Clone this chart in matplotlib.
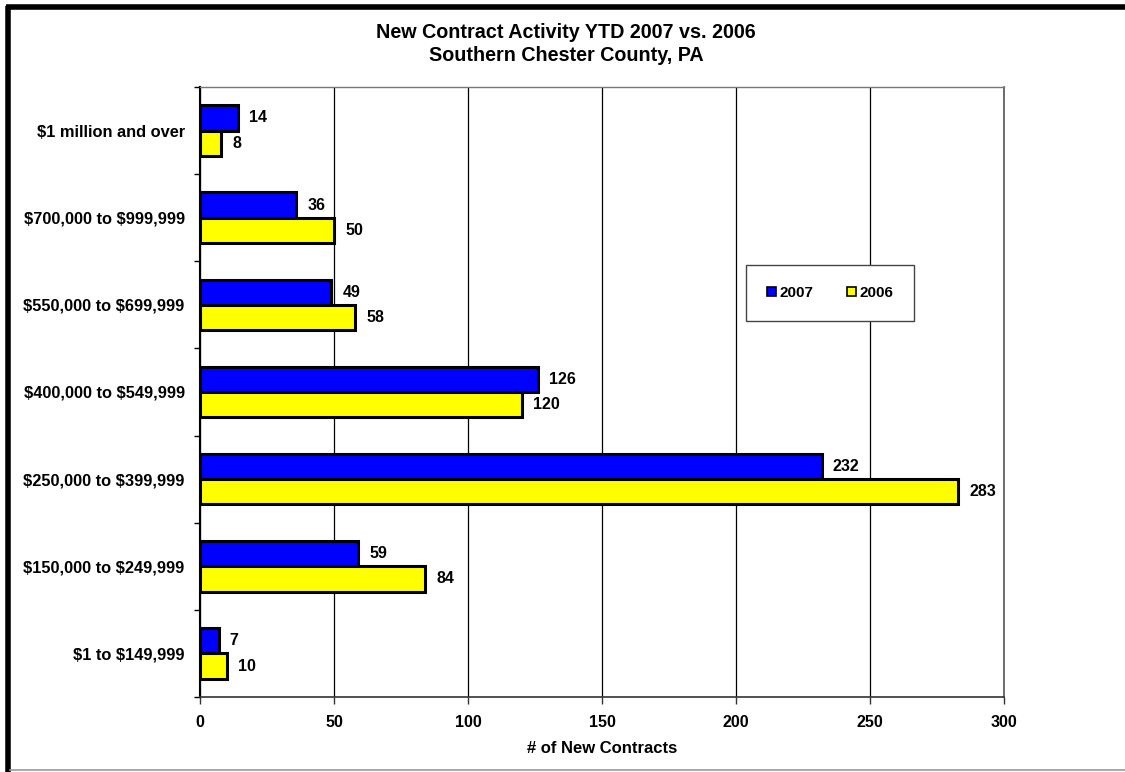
import numpy as np
import matplotlib
matplotlib.use("Agg")
import matplotlib.pyplot as plt
from matplotlib.lines import Line2D

plt.rcParams['font.family'] = ['Liberation Sans', 'DejaVu Sans']
plt.rcParams['font.weight'] = 'bold'
plt.rcParams['text.parse_math'] = False

# Data (bottom to top)
categories = ["$1 to $149,999", "$150,000 to $249,999", "$250,000 to $399,999",
              "$400,000 to $549,999", "$550,000 to $699,999", "$700,000 to $999,999",
              "$1 million and over"]
values_2007 = [7, 59, 232, 126, 49, 36, 14]
values_2006 = [10, 84, 283, 120, 58, 50, 8]
xticks = [0, 50, 100, 150, 200, 250, 300]

W, H = 1125, 772
fig = plt.figure(figsize=(W / 100, H / 100), dpi=100)
ax = fig.add_axes([200 / W, 1 - 697 / H, (1004 - 200) / W, (697 - 87) / H])

y = np.arange(len(categories))
bh = 0.29
b1 = ax.barh(y + bh / 2, values_2007, height=bh, color='#0000FF', edgecolor='black',
             linewidth=2.2, label='2007', zorder=3)
b2 = ax.barh(y - bh / 2, values_2006, height=bh, color='#FFFF00', edgecolor='black',
             linewidth=2.2, label='2006', zorder=3)

for bars, vals in [(b1, values_2007), (b2, values_2006)]:
    for rect, v in zip(bars, vals):
        ax.annotate(str(v), (v, rect.get_y() + rect.get_height() / 2),
                    xytext=(8, 0), textcoords='offset points', va='center', ha='left',
                    fontsize=11.5, fontweight='bold')

ax.set_xlim(0, 300)
ax.set_ylim(-0.5, len(categories) - 0.5)
ax.set_xticks(xticks)
ax.set_xticklabels([str(t) for t in xticks], fontsize=11.5, fontweight='bold')
ax.tick_params(axis='x', direction='out', length=5, width=1, pad=8, color='#333333')
ax.set_yticks(y)
ax.set_yticklabels(categories, fontsize=11.8, fontweight='bold')
ax.tick_params(axis='y', length=0, pad=11)
ax.set_yticks(np.arange(-0.5, len(categories), 1.0), minor=True)
ax.tick_params(axis='y', which='minor', direction='out', length=4, width=1)
ax.grid(axis='x', color='black', linewidth=0.9, zorder=0)
ax.set_axisbelow(True)

ax.spines['left'].set_color('black')
ax.spines['left'].set_linewidth(1.5)
ax.spines['bottom'].set_color('#333333')
ax.spines['bottom'].set_linewidth(1.2)
ax.spines['top'].set_color('#777777')
ax.spines['right'].set_color('#555555')
ax.spines['top'].set_linewidth(1.0)
ax.spines['right'].set_linewidth(1.2)

ax.set_xlabel('# of New Contracts', fontsize=12, fontweight='bold', labelpad=8)

fig.text(566 / W, 1 - 32 / H, 'New Contract Activity YTD 2007 vs. 2006',
         ha='center', va='center', fontsize=14.2, fontweight='bold')
fig.text(566 / W, 1 - 55.5 / H, 'Southern Chester County, PA',
         ha='center', va='center', fontsize=14.2, fontweight='bold')

leg = ax.legend(loc='center', bbox_to_anchor=(830 / W, 1 - 293 / H),
                bbox_transform=fig.transFigure, ncol=2, frameon=True, fancybox=False,
                fontsize=11, handlelength=0.6, handleheight=0.6, handletextpad=0.2,
                columnspacing=2.2, borderpad=1.4, borderaxespad=0)
leg.get_frame().set_edgecolor('#444444')
leg.get_frame().set_linewidth(1.0)
leg.get_frame().set_alpha(1)
for h in leg.legend_handles:
    h.set_linewidth(1.2)

# outer chart frame
fig.add_artist(Line2D([7.5 / W, 7.5 / W], [0, 1 - 6 / H], transform=fig.transFigure,
                      color='black', linewidth=4, solid_capstyle='butt'))
fig.add_artist(Line2D([5.5 / W, 1], [1 - 6.5 / H, 1 - 6.5 / H], transform=fig.transFigure,
                      color='black', linewidth=4, solid_capstyle='butt'))
fig.add_artist(Line2D([10 / W, 1], [1 - 769.5 / H, 1 - 769.5 / H], transform=fig.transFigure,
                      color='#999999', linewidth=1.2))

fig.savefig('out.png', dpi=100)
